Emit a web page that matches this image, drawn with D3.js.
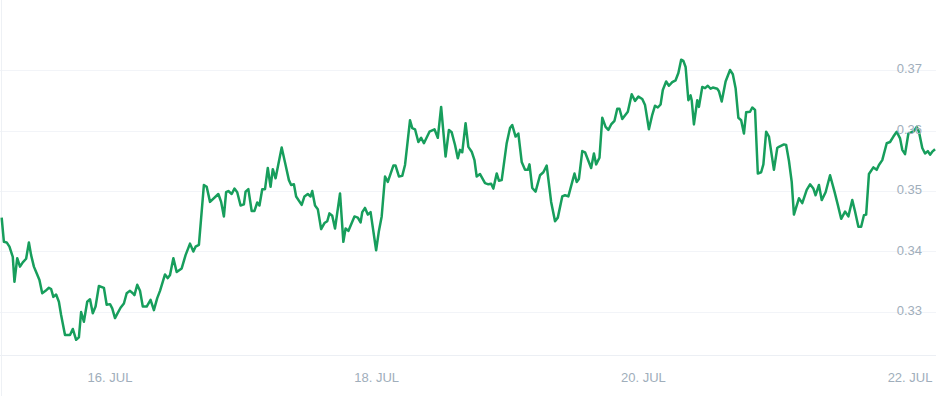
<!DOCTYPE html>
<html>
<head>
<meta charset="utf-8">
<script src="https://cdn.jsdelivr.net/npm/d3@7"></script>
<style>
    html, body { margin: 0; padding: 0; background: #fff; }
    svg { display: block; }
    .tick-label { font-family: "Liberation Sans", Arial, sans-serif; font-size: 13px; fill: #a0aebb; }
</style>
</head>
<body>
<svg width="936" height="396"></svg>
<script>
// price, hours counted from 15 Jul 00:00 UTC
var hours = [
    4.5, 4.9, 5.4, 5.9, 6.5, 6.8, 7.3, 7.8, 8.3, 8.9, 9.4, 9.8, 10.3, 10.8, 11.3, 11.8, 12.4, 13.0, 13.4, 13.8,
    14.3, 14.8, 15.2, 15.9, 16.8, 17.3, 17.9, 18.4, 18.8, 19.3, 19.9, 20.4, 20.9, 21.4, 22.0, 22.9, 23.4, 24.0, 24.4, 24.9,
    25.3, 25.9, 26.5, 27.0, 27.6, 28.1, 28.4, 28.9, 29.4, 29.9, 30.6, 31.3, 31.9, 32.5, 33.0, 33.9, 34.4, 34.8, 35.4, 36.0,
    36.9, 37.6, 38.4, 39.0, 39.4, 40.0, 40.9, 41.4, 42.0, 43.5, 44.0, 44.5, 44.9, 45.3, 45.9, 46.4, 46.9, 47.5, 48.1, 48.4,
    48.9, 49.5, 50.0, 50.5, 50.9, 51.4, 51.9, 52.4, 52.9, 53.3, 53.8, 54.9, 55.6, 56.2, 56.6, 57.1, 57.5, 58.5, 59.0, 59.6,
    60.1, 60.4, 60.9, 61.4, 62.0, 62.6, 63.1, 63.5, 64.0, 64.5, 65.4, 66.0, 66.4, 66.9, 68.0, 68.6, 69.1, 69.4, 69.9, 70.4,
    70.9, 71.9, 72.4, 72.9, 73.5, 74.0, 75.0, 75.4, 76.0, 76.6, 77.1, 78.0, 78.4, 78.9, 79.5, 80.0, 80.5, 81.5, 82.4, 83.0,
    83.6, 84.4, 85.0, 85.5, 86.1, 86.6, 87.0, 87.4, 88.0, 88.5, 89.1, 89.6, 90.0, 90.6, 91.5, 92.1, 92.6, 93.0, 93.6, 94.0,
    94.5, 95.4, 96.0, 96.4, 97.0, 97.5, 98.1, 98.7, 99.2, 99.5, 100.0, 100.6, 101.4, 102.0, 102.6, 103.4, 104.1, 104.6, 105.4, 105.9,
    106.5, 107.6, 108.0, 108.4, 109.0, 109.5, 110.6, 111.1, 111.5, 112.1, 112.6, 113.2, 113.7, 114.2, 114.8, 115.3, 115.7, 116.2, 117.2, 117.9,
    118.5, 119.1, 119.8, 120.3, 121.0, 121.6, 122.1, 122.6, 123.1, 123.5, 124.1, 124.6, 125.2, 125.8, 126.3, 126.8, 127.2, 127.6, 128.1, 128.5,
    128.7, 129.1, 129.7, 130.0, 130.6, 131.1, 131.6, 132.1, 132.5, 133.3, 133.6, 134.1, 134.8, 135.6, 136.1, 136.6, 137.1, 137.6, 138.1, 138.5,
    139.2, 139.6, 140.1, 140.6, 141.2, 141.6, 142.1, 142.6, 143.5, 144.1, 144.4, 145.3, 145.7, 146.2, 146.7, 147.1, 148.0, 148.6, 149.4, 150.0,
    150.6, 151.0, 151.6, 152.1, 152.8, 153.6, 154.4, 155.0, 155.6, 156.3, 156.9, 157.6, 158.1, 158.7, 159.2, 159.7, 160.1, 160.6, 161.4, 162.0,
    162.4, 163.0, 163.8, 164.4, 165.0, 165.6, 166.2, 166.6, 167.1, 167.7, 168.2, 168.7, 169.2, 169.6, 170.2, 170.7, 171.2, 171.6, 172.0, 172.5
];

var prices = [
    0.3456, 0.3416, 0.3415, 0.3408, 0.3391, 0.3350, 0.3389, 0.3375, 0.3382, 0.3388, 0.3415, 0.3394, 0.3375, 0.3364, 0.3353, 0.3331, 0.3335, 0.3340, 0.3338, 0.3325,
    0.3329, 0.3317, 0.3295, 0.3262, 0.3262, 0.3272, 0.3254, 0.3258, 0.3300, 0.3284, 0.3317, 0.3321, 0.3298, 0.3309, 0.3343, 0.3340, 0.3312, 0.3313, 0.3306, 0.3290,
    0.3297, 0.3307, 0.3314, 0.3331, 0.3335, 0.3331, 0.3328, 0.3345, 0.3335, 0.3309, 0.3309, 0.3320, 0.3303, 0.3323, 0.3335, 0.3362, 0.3356, 0.3361, 0.3389, 0.3366,
    0.3372, 0.3394, 0.3413, 0.3400, 0.3408, 0.3411, 0.3510, 0.3507, 0.3482, 0.3495, 0.3482, 0.3458, 0.3498, 0.3500, 0.3495, 0.3504, 0.3498, 0.3476, 0.3478, 0.3499,
    0.3503, 0.3467, 0.3467, 0.3481, 0.3476, 0.3503, 0.3503, 0.3538, 0.3507, 0.3536, 0.3521, 0.3572, 0.3543, 0.3518, 0.3510, 0.3511, 0.3491, 0.3477, 0.3491, 0.3495,
    0.3491, 0.3500, 0.3476, 0.3470, 0.3437, 0.3447, 0.3450, 0.3463, 0.3459, 0.3438, 0.3496, 0.3416, 0.3438, 0.3434, 0.3458, 0.3456, 0.3448, 0.3465, 0.3472, 0.3461,
    0.3465, 0.3402, 0.3434, 0.3458, 0.3524, 0.3515, 0.3542, 0.3542, 0.3524, 0.3525, 0.3543, 0.3617, 0.3604, 0.3602, 0.3581, 0.3588, 0.3579, 0.3598, 0.3602, 0.3588,
    0.3639, 0.3557, 0.3601, 0.3597, 0.3576, 0.3554, 0.3568, 0.3564, 0.3612, 0.3573, 0.3565, 0.3551, 0.3524, 0.3528, 0.3513, 0.3511, 0.3512, 0.3504, 0.3529, 0.3517,
    0.3518, 0.3579, 0.3604, 0.3609, 0.3590, 0.3595, 0.3548, 0.3535, 0.3535, 0.3544, 0.3505, 0.3499, 0.3526, 0.3531, 0.3542, 0.3482, 0.3450, 0.3456, 0.3491, 0.3493,
    0.3491, 0.3529, 0.3515, 0.3520, 0.3566, 0.3564, 0.3538, 0.3562, 0.3544, 0.3555, 0.3621, 0.3606, 0.3601, 0.3610, 0.3616, 0.3636, 0.3636, 0.3619, 0.3631, 0.3660,
    0.3649, 0.3656, 0.3652, 0.3642, 0.3602, 0.3626, 0.3641, 0.3638, 0.3643, 0.3667, 0.3681, 0.3674, 0.3680, 0.3683, 0.3695, 0.3717, 0.3715, 0.3705, 0.3650, 0.3658,
    0.3650, 0.3610, 0.3650, 0.3639, 0.3672, 0.3670, 0.3674, 0.3669, 0.3671, 0.3669, 0.3665, 0.3648, 0.3681, 0.3700, 0.3693, 0.3670, 0.3621, 0.3617, 0.3595, 0.3630,
    0.3631, 0.3638, 0.3634, 0.3529, 0.3531, 0.3544, 0.3598, 0.3590, 0.3535, 0.3571, 0.3573, 0.3577, 0.3576, 0.3550, 0.3515, 0.3461, 0.3488, 0.3480, 0.3502, 0.3511,
    0.3504, 0.3493, 0.3510, 0.3485, 0.3498, 0.3526, 0.3499, 0.3477, 0.3454, 0.3466, 0.3458, 0.3485, 0.3466, 0.3441, 0.3441, 0.3460, 0.3461, 0.3528, 0.3539, 0.3535,
    0.3543, 0.3551, 0.3579, 0.3581, 0.3590, 0.3598, 0.3587, 0.3568, 0.3561, 0.3595, 0.3597, 0.3599, 0.3606, 0.3598, 0.3571, 0.3562, 0.3566, 0.3560, 0.3565, 0.3569
];

var yTicks = [0.33, 0.34, 0.35, 0.36, 0.37];
var xTickDays = ["2024-07-16", "2024-07-18", "2024-07-20", "2024-07-22"];

(function() {
    var width = 936, height = 396;
    var plotBottom = 355;
    var t0 = Date.UTC(2024, 6, 15);

    var svg = d3.select('svg');

    var data = hours.map(function(h, i) {
        return { date: new Date(t0 + h * 3600e3), value: prices[i] };
    });

    var x = d3.scaleUtc()
        .domain([new Date(t0 + 4.2 * 3600e3), new Date(t0 + 172.67 * 3600e3)])
        .range([0, width]);

    var y = d3.scaleLinear()
        .domain([0.33, 0.37])
        .range([312, 70]);

    // horizontal grid
    svg.append('g')
        .selectAll('line')
        .data(yTicks)
        .enter().append('line')
        .attr('x1', 0)
        .attr('x2', width)
        .attr('y1', function(d) { return Math.round(y(d)) + 0.5; })
        .attr('y2', function(d) { return Math.round(y(d)) + 0.5; })
        .style('stroke', '#f2f4f8')
        .style('stroke-width', 1);

    // bottom axis line + left edge
    svg.append('line')
        .attr('x1', 0).attr('x2', width)
        .attr('y1', plotBottom + 0.5).attr('y2', plotBottom + 0.5)
        .style('stroke', '#eceff4');
    svg.append('line')
        .attr('x1', 1.5).attr('x2', 1.5)
        .attr('y1', 0).attr('y2', height)
        .style('stroke', '#eef1f5');

    var line = d3.line()
        .x(function(d) { return x(d.date); })
        .y(function(d) { return y(d.value); });

    svg.append('path')
        .datum(data)
        .attr('d', line)
        .style('fill', 'none')
        .style('stroke', '#179e5c')
        .style('stroke-width', 2.5)
        .style('stroke-linejoin', 'round');

    // y labels on the right
    svg.append('g')
        .selectAll('text')
        .data(yTicks)
        .enter().append('text')
        .attr('class', 'tick-label')
        .attr('x', 922)
        .attr('y', function(d) { return y(d) + 3; })
        .attr('text-anchor', 'end')
        .text(function(d) { return d3.format('.2f')(d); });

    // x labels
    var fmt = d3.utcFormat('%-d. %b');
    svg.append('g')
        .selectAll('text')
        .data(xTickDays.map(function(s) { return new Date(s + 'T00:00:00Z'); }))
        .enter().append('text')
        .attr('class', 'tick-label')
        .attr('x', function(d) { return x(d); })
        .attr('y', 382)
        .attr('text-anchor', 'middle')
        .text(function(d) { return fmt(d).toUpperCase(); });
})();
</script>
</body>
</html>
